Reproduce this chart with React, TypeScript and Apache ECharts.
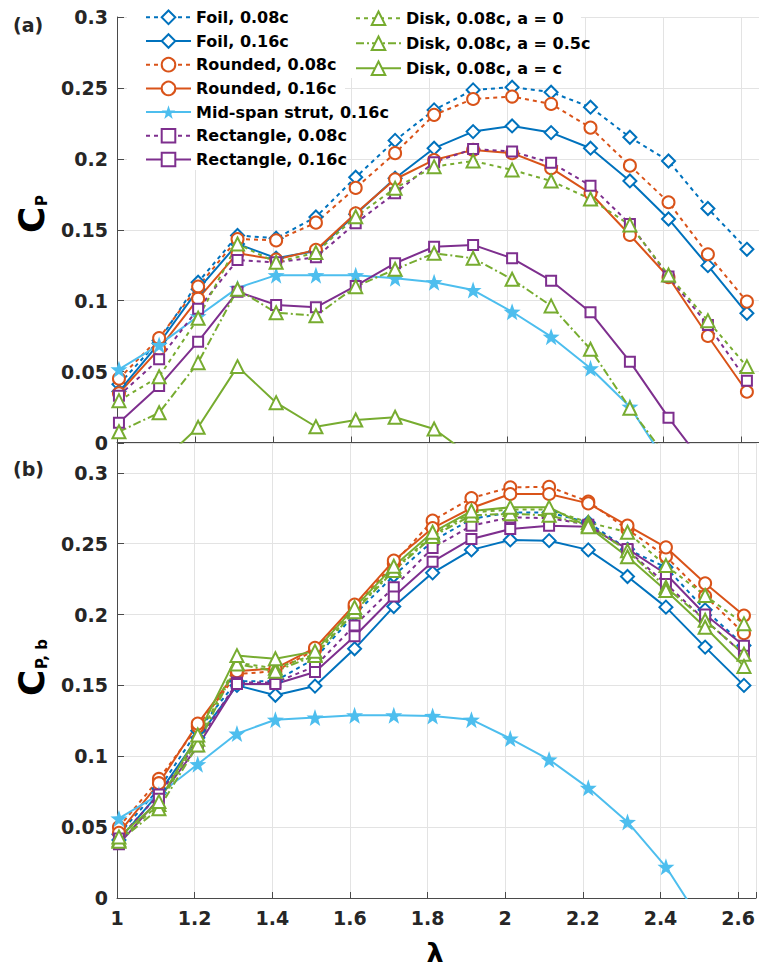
import React, { useEffect, useRef } from 'react';
import * as echarts from 'echarts';

// Tip-speed ratio of each measured point
const lambda = [1.005, 1.108, 1.208, 1.309, 1.408, 1.51, 1.612, 1.713, 1.813, 1.913, 2.013, 2.113, 2.214, 2.315, 2.414, 2.515, 2.615];

// Panel (a): C_P
const cpFoil08 = [0.041, 0.072, 0.113, 0.146, 0.144, 0.159, 0.187, 0.213, 0.2345, 0.2486, 0.2505, 0.247, 0.2364, 0.2152, 0.1985, 0.165, 0.1362];
const cpFoil16 = [0.036, 0.070, 0.108, 0.140, 0.130, 0.135, 0.161, 0.1863, 0.2075, 0.2192, 0.2232, 0.2185, 0.2075, 0.1844, 0.1576, 0.1247, 0.0911];
const cpRound08 = [0.045, 0.0737, 0.110, 0.1435, 0.1425, 0.155, 0.1795, 0.204, 0.231, 0.2422, 0.2439, 0.2387, 0.222, 0.1952, 0.1694, 0.1327, 0.0993];
const cpRound16 = [0.0347, 0.066, 0.1014, 0.1334, 0.129, 0.1358, 0.1616, 0.1856, 0.1992, 0.2063, 0.204, 0.1934, 0.1757, 0.1463, 0.1165, 0.0751, 0.0358];
const cpStrut16 = [0.0516, 0.0688, 0.089, 0.109, 0.118, 0.118, 0.118, 0.1158, 0.113, 0.1075, 0.0922, 0.0746, 0.0523, 0.0252, -0.017, null, null];
const cpRect08 = [0.033, 0.0587, 0.0943, 0.1287, 0.127, 0.1306, 0.1546, 0.1757, 0.1976, 0.207, 0.2051, 0.1973, 0.1811, 0.1541, 0.117, 0.0829, 0.0436];
const cpRect16 = [0.014, 0.0398, 0.0711, 0.1063, 0.097, 0.0953, 0.1104, 0.1264, 0.138, 0.1393, 0.1299, 0.1141, 0.0918, 0.057, 0.0175, -0.019, null];
const cpDisk0 = [0.0295, 0.0464, 0.0876, 0.140, 0.127, 0.1339, 0.1592, 0.1793, 0.1945, 0.1985, 0.1922, 0.1844, 0.1717, 0.1534, 0.1181, 0.0859, 0.0535];
const cpDisk05 = [0.0076, 0.021, 0.0563, 0.108, 0.0915, 0.0894, 0.1099, 0.1221, 0.1334, 0.1299, 0.1151, 0.0963, 0.0657, 0.0241, -0.012, null, null];
const cpDiskC = [null, -0.015, 0.0107, 0.0535, 0.0281, 0.0111, 0.0159, 0.0178, 0.0095, -0.0106, null, null, null, null, null, null, null];

// Panel (b): C_P,b
const cpbFoil08 = [0.045, 0.077, 0.118, 0.153, 0.153, 0.169, 0.200, 0.2275, 0.2517, 0.2674, 0.272, 0.272, 0.265, 0.246, 0.2333, 0.2033, 0.1782];
const cpbFoil16 = [0.041, 0.074, 0.113, 0.150, 0.143, 0.1495, 0.1758, 0.2056, 0.2294, 0.2456, 0.2526, 0.2521, 0.2456, 0.2268, 0.2052, 0.177, 0.150];
const cpbRound08 = [0.050, 0.084, 0.121, 0.158, 0.160, 0.175, 0.205, 0.236, 0.2662, 0.2822, 0.2897, 0.2901, 0.2797, 0.260, 0.241, 0.213, 0.1868];
const cpbRound16 = [0.046, 0.081, 0.123, 0.160, 0.162, 0.1765, 0.207, 0.238, 0.261, 0.2751, 0.285, 0.285, 0.2784, 0.2627, 0.2474, 0.222, 0.1993];
const cpbStrut16 = [0.0561, 0.073, 0.0944, 0.116, 0.1258, 0.1273, 0.1289, 0.1289, 0.1284, 0.1258, 0.1125, 0.0977, 0.0777, 0.0537, 0.022, -0.021, null];
const cpbRect08 = [0.042, 0.073, 0.110, 0.152, 0.152, 0.1634, 0.1923, 0.2192, 0.247, 0.2627, 0.2685, 0.268, 0.2634, 0.2455, 0.2216, 0.196, 0.172];
const cpbRect16 = [0.038, 0.070, 0.107, 0.151, 0.151, 0.1594, 0.1847, 0.2127, 0.2373, 0.2533, 0.2603, 0.2627, 0.262, 0.2463, 0.2286, 0.200, 0.178];
const cpbDisk0 = [0.041, 0.066, 0.112, 0.166, 0.162, 0.172, 0.203, 0.232, 0.256, 0.272, 0.274, 0.274, 0.265, 0.258, 0.2345, 0.2134, 0.1934];
const cpbDisk05 = [0.040, 0.063, 0.108, 0.165, 0.160, 0.171, 0.202, 0.231, 0.255, 0.270, 0.271, 0.270, 0.263, 0.245, 0.2192, 0.196, 0.172];
const cpbDiskC = [0.043, 0.068, 0.115, 0.171, 0.1688, 0.174, 0.205, 0.234, 0.258, 0.273, 0.2756, 0.2756, 0.262, 0.2408, 0.2169, 0.191, 0.1634];

const seriesNames = [
  'Foil, 0.08c',
  'Foil, 0.16c',
  'Rounded, 0.08c',
  'Rounded, 0.16c',
  'Mid-span strut, 0.16c',
  'Rectangle, 0.08c',
  'Rectangle, 0.16c',
  'Disk, 0.08c, a = 0',
  'Disk, 0.08c, a = 0.5c',
  'Disk, 0.08c, a = c',
];

const panelA = [cpFoil08, cpFoil16, cpRound08, cpRound16, cpStrut16, cpRect08, cpRect16, cpDisk0, cpDisk05, cpDiskC];
const panelB = [cpbFoil08, cpbFoil16, cpbRound08, cpbRound16, cpbStrut16, cpbRect08, cpbRect16, cpbDisk0, cpbDisk05, cpbDiskC];

const xTicks = [1, 1.2, 1.4, 1.6, 1.8, 2, 2.2, 2.4, 2.6];
const yTicks = [0, 0.05, 0.1, 0.15, 0.2, 0.25, 0.3];

const STAR =
  'path://M0,-10L2.35,-3.24L9.51,-3.09L3.8,1.24L5.88,8.09L0,4L-5.88,8.09L-3.8,1.24L-9.51,-3.09L-2.35,-3.24Z';
const DOT = [4, 4];
const DASHDOT = [8, 3, 2, 3];

const looks = [
  { color: '#0072BD', type: DOT, symbol: 'emptyDiamond', size: 13 },
  { color: '#0072BD', type: 'solid', symbol: 'emptyDiamond', size: 13 },
  { color: '#D95319', type: DOT, symbol: 'emptyCircle', size: 12 },
  { color: '#D95319', type: 'solid', symbol: 'emptyCircle', size: 12 },
  { color: '#4DBEEE', type: 'solid', symbol: STAR, size: 17 },
  { color: '#7E2F8E', type: DOT, symbol: 'emptyRect', size: 10 },
  { color: '#7E2F8E', type: 'solid', symbol: 'emptyRect', size: 10 },
  { color: '#77AC30', type: DOT, symbol: 'emptyTriangle', size: 13 },
  { color: '#77AC30', type: DASHDOT, symbol: 'emptyTriangle', size: 13 },
  { color: '#77AC30', type: 'solid', symbol: 'emptyTriangle', size: 13 },
];

const FONT = 'DejaVu Sans';
const INK = '#262626';
const AXIS = '#4a4a4a';
const GRID = '#e3e3e3';
const X_MAX = 2.646;

const near = (v: number, list: number[]) => list.some((t) => Math.abs(t - v) < 1e-6);

const xAxisBase = (gridIndex: number, labels: boolean) => ({
  type: 'value',
  gridIndex,
  min: 1,
  max: X_MAX,
  interval: 0.2,
  axisLine: { onZero: false, lineStyle: { color: AXIS, width: 1 } },
  axisTick: {
    inside: true,
    length: 6,
    lineStyle: { color: AXIS, width: 1 },
    interval: (_i: number, v: number) => near(Number(v), xTicks),
  },
  splitLine: { show: true, lineStyle: { color: GRID, width: 1 } },
  axisLabel: {
    show: labels,
    margin: 10,
    fontFamily: FONT,
    fontWeight: 'bold',
    fontSize: 19,
    color: INK,
    formatter: (v: number) => (near(v, xTicks) ? String(+v.toFixed(1)) : ''),
  },
});

const yAxisBase = (gridIndex: number, max: number) => ({
  type: 'value',
  gridIndex,
  min: 0,
  max,
  interval: 0.05,
  axisLine: { show: true, onZero: false, lineStyle: { color: AXIS, width: 1 } },
  axisTick: { show: true, inside: true, length: 7, lineStyle: { color: AXIS, width: 1 } },
  splitLine: { show: true, lineStyle: { color: GRID, width: 1 } },
  axisLabel: {
    margin: 9,
    fontFamily: FONT,
    fontWeight: 'bold',
    fontSize: 19,
    color: INK,
    formatter: (v: number) => (near(v, yTicks) ? String(+v.toFixed(2)) : ''),
  },
});

function buildSeries(values: (number | null)[][], axisIndex: number) {
  return values.map((arr, k) => {
    const look = looks[k];
    const data = lambda
      .map((x, i) => [x, arr[i]])
      .filter((p) => p[1] !== null);
    return {
      name: seriesNames[k],
      type: 'line',
      xAxisIndex: axisIndex,
      yAxisIndex: axisIndex,
      data,
      color: look.color,
      symbol: look.symbol,
      symbolSize: look.size,
      showAllSymbol: true,
      clip: true,
      silent: true,
      lineStyle: { color: look.color, width: 2, type: look.type },
      itemStyle: { color: look.color, borderWidth: 1.8 },
      emphasis: { disabled: true },
    };
  });
}

const legendText = {
  fontFamily: FONT,
  fontWeight: 'bold',
  fontSize: 16,
  color: '#000',
  lineHeight: 20,
};

export default function App() {
  const ref = useRef<HTMLDivElement>(null);

  useEffect(() => {
    if (!ref.current) return;
    const chart = echarts.init(ref.current, null, { renderer: 'svg' });

    const option = {
      animation: false,
      backgroundColor: '#fff',
      grid: [
        { left: 117, top: 17, width: 642, height: 425.5 },
        { left: 117, top: 443, width: 642, height: 455 },
      ],
      xAxis: [xAxisBase(0, false), xAxisBase(1, true)],
      yAxis: [yAxisBase(0, 0.3), yAxisBase(1, 0.321)],
      legend: [
        {
          orient: 'vertical',
          left: 127,
          top: 5.3,
          padding: [2, 4, 2, 18],
          itemGap: 3.7,
          itemWidth: 45,
          itemHeight: 17,
          selectedMode: false,
          textStyle: legendText,
          data: seriesNames.slice(0, 7),
        },
        {
          orient: 'vertical',
          left: 345,
          top: 6.3,
          padding: [2, 4, 2, 10],
          itemGap: 5,
          itemWidth: 45,
          itemHeight: 17,
          selectedMode: false,
          textStyle: legendText,
          data: seriesNames.slice(7),
        },
      ],
      graphic: [
        // white legend boxes hiding the grid behind them
        { type: 'rect', z: 1, silent: true, shape: { x: 127, y: 0, width: 218, height: 170 }, style: { fill: '#fff' } },
        { type: 'rect', z: 1, silent: true, shape: { x: 345, y: 0, width: 236, height: 78 }, style: { fill: '#fff' } },
        {
          type: 'text', z: 5, x: 13, y: 15,
          style: { text: '(a)', font: `bold 19px "${FONT}"`, fill: INK, textVerticalAlign: 'top' },
        },
        {
          type: 'text', z: 5, x: 13, y: 459,
          style: { text: '(b)', font: `bold 19px "${FONT}"`, fill: INK, textVerticalAlign: 'top' },
        },
        {
          type: 'group', z: 5, x: 31, y: 233, rotation: Math.PI / 2,
          children: [
            { type: 'text', x: 0, y: 0, style: { text: 'C', font: `bold 36px "${FONT}"`, fill: '#000', textVerticalAlign: 'middle' } },
            { type: 'text', x: 27, y: 11, style: { text: 'P', font: `bold 15px "${FONT}"`, fill: '#000', textVerticalAlign: 'middle' } },
          ],
        },
        {
          type: 'group', z: 5, x: 31, y: 696, rotation: Math.PI / 2,
          children: [
            { type: 'text', x: 0, y: 0, style: { text: 'C', font: `bold 36px "${FONT}"`, fill: '#000', textVerticalAlign: 'middle' } },
            { type: 'text', x: 27, y: 11, style: { text: 'P, b', font: `bold 15px "${FONT}"`, fill: '#000', textVerticalAlign: 'middle' } },
          ],
        },
        {
          type: 'text', z: 5, x: 435, y: 952,
          style: { text: 'λ', font: `bold 27px "${FONT}"`, fill: '#000', textAlign: 'center', textVerticalAlign: 'middle' },
        },
      ],
      series: [...buildSeries(panelA, 0), ...buildSeries(panelB, 1)],
    };

    chart.setOption(option as any);
    return () => chart.dispose();
  }, []);

  return (
    <div
      ref={ref}
      style={{ position: 'absolute', left: 0, top: 0, width: 759, height: 969, background: '#fff' }}
    />
  );
}
